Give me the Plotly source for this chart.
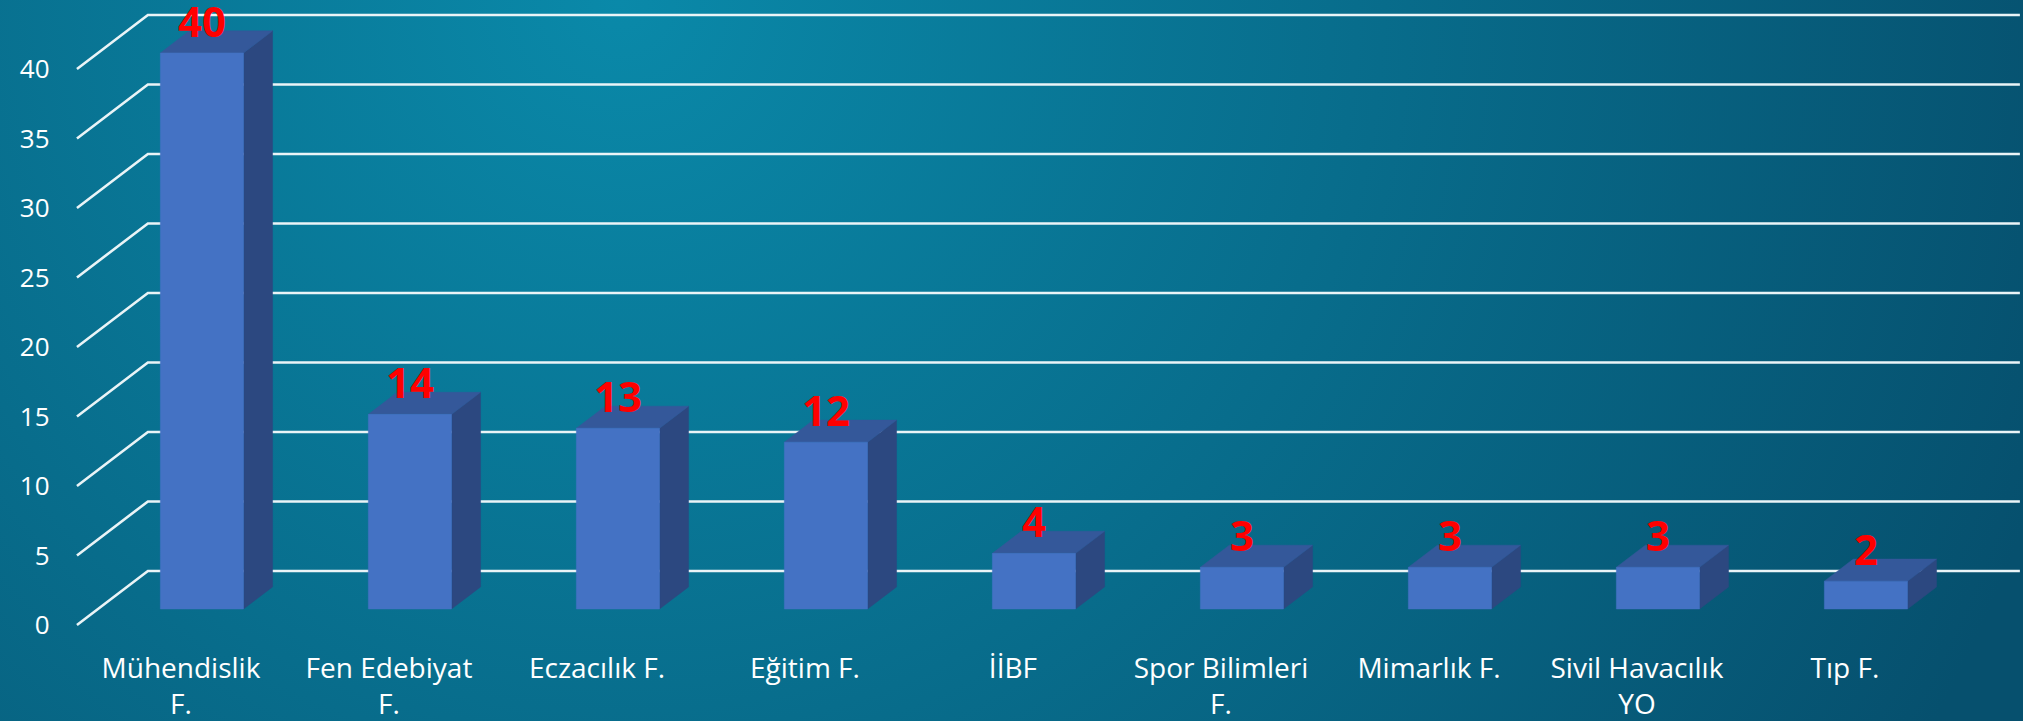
import base64
import plotly.graph_objects as go

# ---- data ----
categories = ["Mühendislik F.", "Fen Edebiyat F.", "Eczacılık F.", "Eğitim F.", "İİBF",
              "Spor Bilimleri F.", "Mimarlık F.", "Sivil Havacılık YO", "Tıp F."]
tick_labels = ["Mühendislik<br>F.", "Fen Edebiyat<br>F.", "Eczacılık F.", "Eğitim F.", "İİBF",
               "Spor Bilimleri<br>F.", "Mimarlık F.", "Sivil Havacılık<br>YO", "Tıp F."]
values = [40, 14, 13, 12, 4, 3, 3, 3, 2]
y_ticks = [0, 5, 10, 15, 20, 25, 30, 35, 40]

# ---- oblique 3-D projection (depth z in 0..1 from front floor edge to back wall) ----
KX, KY = 0.341, 3.885
ZF, ZB = 0.296, 0.705
BAR_W = 0.40
LABEL_LIFT = 0.42
n = len(categories)


def P(x, v, z):
    return x + z * KX, v + z * KY


def poly(pts, xs, ys):
    for p in pts:
        xs.append(p[0]); ys.append(p[1])
    xs.append(pts[0][0]); ys.append(pts[0][1])
    xs.append(None); ys.append(None)


fig = go.Figure()

# back-wall gridlines and left-wall diagonals
gx, gy = [], []
for v in y_ticks:
    a = P(-0.5, v, 0); b = P(-0.5, v, 1); c = P(n - 0.5, v, 1)
    gx += [a[0], b[0], c[0], None]
    gy += [a[1], b[1], c[1], None]
fig.add_trace(go.Scatter(x=gx, y=gy, mode="lines", line=dict(color="#EAF4F7", width=2.6),
                         hoverinfo="skip", showlegend=False))

fx, fy, sx, sy, tx, ty = [], [], [], [], [], []
for i, v in enumerate(values):
    l, r = i - BAR_W / 2, i + BAR_W / 2
    poly([P(l, 0, ZF), P(r, 0, ZF), P(r, v, ZF), P(l, v, ZF)], fx, fy)
    poly([P(r, 0, ZF), P(r, 0, ZB), P(r, v, ZB), P(r, v, ZF)], sx, sy)
    poly([P(l, v, ZF), P(r, v, ZF), P(r, v, ZB), P(l, v, ZB)], tx, ty)

for xs, ys, col in [(sx, sy, "#2C4880"), (tx, ty, "#34589A"), (fx, fy, "#4472C4")]:
    fig.add_trace(go.Scatter(x=xs, y=ys, mode="lines", fill="toself", fillcolor=col,
                             line=dict(color=col, width=0.5), hoverinfo="skip",
                             showlegend=False))

# data labels
lab_x = [i + ZF * KX for i in range(n)]
lab_y = [v + ZF * KY + LABEL_LIFT for v in values]
fig.add_trace(go.Scatter(x=lab_x, y=lab_y, mode="text", text=[str(v) for v in values],
                         textposition="top center",
                         textfont=dict(family="Open Sans", size=42, color="#FF0000", weight="bold"),
                         hoverinfo="skip", showlegend=False))

# background gradient
svg = ('<svg xmlns="http://www.w3.org/2000/svg" width="2023" height="721" viewBox="0 0 2023 721">'
       '<defs><radialGradient id="g" cx="620" cy="0" r="1500" gradientUnits="userSpaceOnUse">'
       '<stop offset="0" stop-color="#0A89A9"/><stop offset="1" stop-color="#06506E"/>'
       '</radialGradient></defs><rect width="2023" height="721" fill="url(#g)"/></svg>')
src = "data:image/svg+xml;base64," + base64.b64encode(svg.encode()).decode()

fig.update_layout(
    width=2023, height=721,
    margin=dict(l=0, r=0, t=0, b=0),
    paper_bgcolor="#076B8A", plot_bgcolor="rgba(0,0,0,0)",
    images=[dict(source=src, xref="paper", yref="paper", x=0, y=1, sizex=1, sizey=1,
                 sizing="stretch", layer="below")],
    xaxis=dict(range=[-0.870, 8.856], tickvals=list(range(n)), ticktext=tick_labels,
               anchor="free", position=0.100, showgrid=False, zeroline=False, showline=False,
               ticks="", tickfont=dict(family="Open Sans", size=28, color="white")),
    yaxis=dict(range=[-6.91, 44.96], tickvals=y_ticks, ticktext=[str(t) for t in y_ticks],
               anchor="free", position=0.0245, showgrid=False, zeroline=False, showline=False,
               ticks="", tickfont=dict(family="Open Sans", size=26, color="white")),
    showlegend=False,
)

fig.write_html("out.html", config={"displayModeBar": False},
               post_script="document.body.style.margin='0';document.body.style.overflow='hidden';")
